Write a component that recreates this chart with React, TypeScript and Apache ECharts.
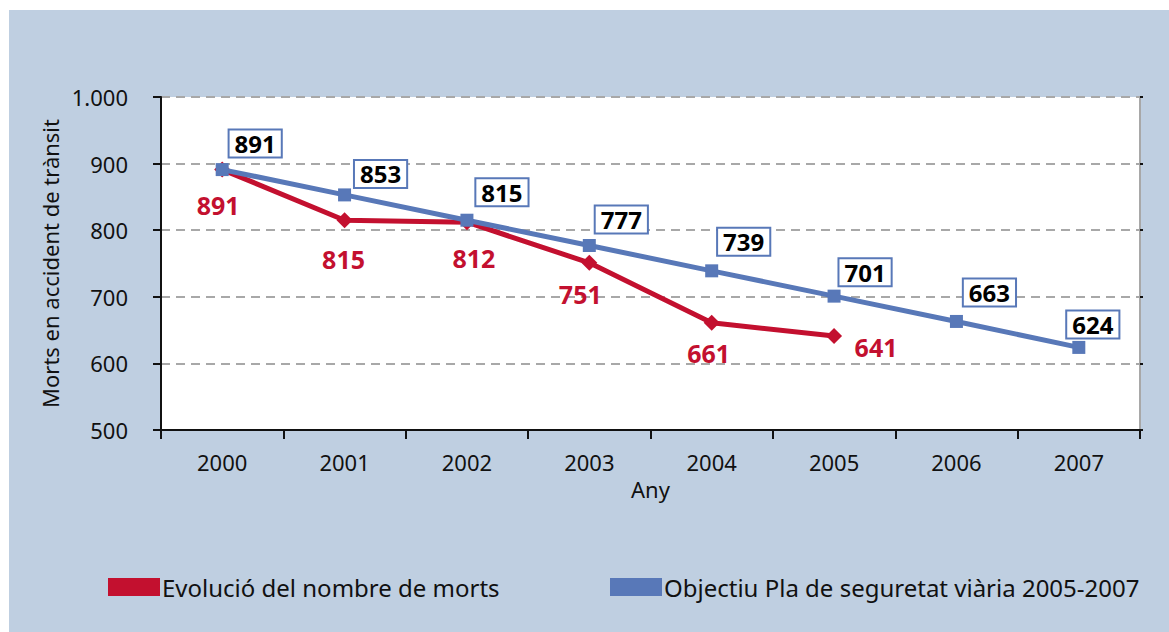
import React, { useEffect, useRef } from "react";
import * as echarts from "echarts";

const years = ["2000", "2001", "2002", "2003", "2004", "2005", "2006", "2007"];
const deaths = [891, 815, 812, 751, 661, 641];
const target = [891, 853, 815, 777, 739, 701, 663, 624];
const yTicks = { min: 500, max: 1000, interval: 100 };
const seriesNames = ["Evolució del nombre de morts", "Objectiu Pla de seguretat viària 2005-2007"];
const yAxisTitle = "Morts en accident de trànsit";
const xAxisTitle = "Any";

// label placement (layout only)
const deathLabelOffsets = [[-4, 35], [-1, 39], [7, 36], [-9, 31], [-3, 30], [42, 11]];
const targetLabelOffsets = [[33, -26], [36, -21], [35, -28], [32, -26], [32, -29], [31, -24], [33, -29], [14, -23]];

const RED = "#c3102f";
const BLUE = "#5878b8";
const FONT = "'Noto Sans', sans-serif";

export default function App() {
  const ref = useRef<HTMLDivElement>(null);
  useEffect(() => {
    if (!ref.current) return;
    const chart = echarts.init(ref.current, undefined, { renderer: "svg" });
    const legendCommon = {
      top: 565,
      padding: 0,
      itemWidth: 52,
      itemHeight: 18,
      itemGap: 0,
      icon: "rect",
      textStyle: { fontFamily: FONT, fontSize: 24, color: "#111", padding: [0, 0, 0, -3] },
    };
    chart.setOption({
      animation: false,
      backgroundColor: "#bfcfe1",
      textStyle: { fontFamily: FONT },
      grid: {
        left: 152,
        top: 87,
        width: 979,
        height: 333,
        show: true,
        backgroundColor: "#ffffff",
        borderWidth: 0,
      },
      legend: [
        { ...legendCommon, left: 99, data: [seriesNames[0]] },
        { ...legendCommon, left: 601, data: [seriesNames[1]] },
      ],
      xAxis: {
        type: "category",
        data: years,
        boundaryGap: true,
        name: xAxisTitle,
        nameLocation: "middle",
        nameGap: 47,
        nameTextStyle: { fontFamily: FONT, fontSize: 22, color: "#111" },
        axisLine: { lineStyle: { color: "#111", width: 2 } },
        axisTick: { show: true, length: 9, lineStyle: { color: "#111", width: 2 } },
        axisLabel: { fontFamily: FONT, fontSize: 22, color: "#111", margin: 21 },
        splitLine: { show: false },
      },
      yAxis: [
        {
          type: "value",
          min: yTicks.min,
          max: yTicks.max,
          interval: yTicks.interval,
          name: yAxisTitle,
          nameLocation: "middle",
          nameGap: 100,
          nameTextStyle: { fontFamily: FONT, fontSize: 22, color: "#111" },
          axisLine: { show: true, lineStyle: { color: "#111", width: 2 } },
          axisTick: { show: true, length: 8, lineStyle: { color: "#111", width: 2 } },
          axisLabel: {
            fontFamily: FONT,
            fontSize: 22,
            color: "#111",
            margin: 33,
            formatter: (v: number) => (v >= 1000 ? v.toLocaleString("de-DE") : String(v)),
          },
          splitLine: { show: true, lineStyle: { color: "#a8a8a8", width: 2, type: [9, 6] } },
        },
        {
          type: "value",
          position: "right",
          min: yTicks.min,
          max: yTicks.max,
          interval: yTicks.interval,
          axisLine: { show: true, lineStyle: { color: "#a8a8a8", width: 2 } },
          axisTick: { show: true, length: 3, lineStyle: { color: "#111", width: 2 } },
          axisLabel: { show: false },
          splitLine: { show: false },
        },
      ],
      series: [
        {
          name: seriesNames[0],
          type: "line",
          data: deaths.map((v, i) => ({
            value: v,
            label: { offset: deathLabelOffsets[i] },
          })),
          z: 2,
          symbol: "diamond",
          symbolSize: 16,
          itemStyle: { color: RED },
          lineStyle: { color: RED, width: 5 },
          label: {
            show: true,
            position: "inside",
            color: RED,
            fontFamily: FONT,
            fontWeight: "bold",
            fontSize: 25,
          },
        },
        {
          name: seriesNames[1],
          type: "line",
          data: target.map((v, i) => ({
            value: v,
            label: { offset: targetLabelOffsets[i] },
          })),
          z: 3,
          symbol: "rect",
          symbolSize: 13,
          itemStyle: { color: BLUE },
          lineStyle: { color: BLUE, width: 5 },
          label: {
            show: true,
            position: "inside",
            color: "#000",
            fontFamily: FONT,
            fontWeight: "bold",
            fontSize: 24,
            backgroundColor: "#ffffff",
            borderColor: BLUE,
            borderWidth: 2,
            padding: [1, 5, 0, 5],
            lineHeight: 25,
          },
        },
      ],
    });
    return () => chart.dispose();
  }, []);
  return (
    <div
      ref={ref}
      style={{ position: "absolute", left: 9, top: 10, width: 1160, height: 622 }}
    />
  );
}
